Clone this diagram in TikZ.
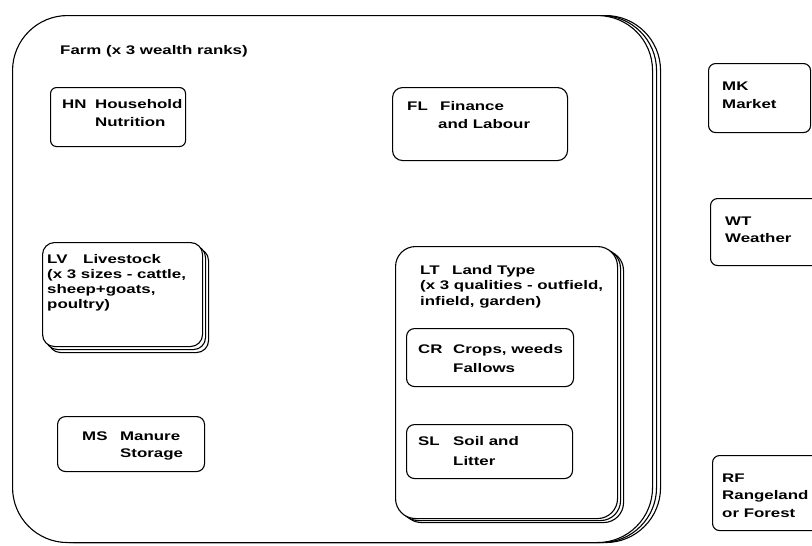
\documentclass[tikz,border=0pt]{standalone}
\usepackage{fontspec}
\setmainfont{Liberation Sans}[FakeStretch=1.35]

% stacked lines with a given baseline distance; baseline of the node = first line
\newcommand\stack[2]{\vtop{\baselineskip=#1\relax\lineskiplimit=-100pt #2}}
% fixed-width code tag in front of a label
\newcommand\tg[2]{\makebox[#1][l]{#2}}

\tikzset{
  box/.style={draw, line width=1.1pt, fill=white, inner sep=0pt, anchor=north west,
              rounded corners=#1},
  box/.default=8pt,
  lbl/.style={anchor=base west, inner sep=0pt,
              font=\bfseries\fontsize{12.5}{15}\selectfont}
}

\begin{document}
\begin{tikzpicture}[x=1pt,y=-1pt]
\useasboundingbox (0,0) rectangle (812,546);

% ---- Farm (stacked three times, copies shifted to the right) ----
\node[box=55pt, minimum width=640pt, minimum height=527pt] (farm3) at (20,15) {};
\node[box=55pt, minimum width=640pt, minimum height=527pt] (farm2) at (16,15) {};
\node[box=55pt, minimum width=640pt, minimum height=527pt] (farm)  at (12,15) {};
\node[lbl] (farm-t) at (60,54) {Farm (x 3 wealth ranks)};

% ---- Household nutrition ----
\node[box=6pt, minimum width=135pt, minimum height=59pt] (hn) at (50,87) {};
\node[lbl] (hn-t) at (62,108)
  {\stack{18pt}{\hbox{\tg{33pt}{HN}Household}\hbox{\tg{33pt}{}Nutrition}}};

% ---- Finance and labour ----
\node[box=10pt, minimum width=175pt, minimum height=73pt] (fl) at (392,87) {};
\node[lbl] (fl-t) at (407,110)
  {\stack{18pt}{\hbox{\tg{33pt}{FL}Finance}\hbox{\tg{31pt}{}and Labour}}};

% ---- Livestock (stacked) ----
\node[box=12pt, minimum width=160pt, minimum height=104pt] (lv3) at (48,248) {};
\node[box=12pt, minimum width=160pt, minimum height=104pt] (lv2) at (45,245) {};
\node[box=12pt, minimum width=160pt, minimum height=104pt] (lv)  at (42,242) {};
\node[lbl] (lv-t) at (47,263)
  {\stack{15pt}{\hbox{\tg{36pt}{LV}Livestock}\hbox{(x 3 sizes - cattle,}%
   \hbox{sheep+goats,}\hbox{poultry)}}};

% ---- Manure storage ----
\node[box=8pt, minimum width=147pt, minimum height=55pt] (ms) at (57,416) {};
\node[lbl] (ms-t) at (82,440)
  {\stack{17pt}{\hbox{\tg{38pt}{MS}Manure}\hbox{\tg{38pt}{}Storage}}};

% ---- Land type (stacked) with crops and soil ----
\node[box=20pt, minimum width=222pt, minimum height=272pt] (lt3) at (401,250) {};
\node[box=20pt, minimum width=222pt, minimum height=272pt] (lt2) at (398,248) {};
\node[box=20pt, minimum width=222pt, minimum height=272pt] (lt)  at (395,246) {};
\node[lbl] (lt-t) at (420,274)
  {\stack{15.5pt}{\hbox{\tg{32pt}{LT}Land Type}\hbox{(x 3 qualities - outfield,}%
   \hbox{infield, garden)}}};

\node[box=8pt, minimum width=167pt, minimum height=58pt] (cr) at (406,328) {};
\node[lbl] (cr-t) at (418,353)
  {\stack{19pt}{\hbox{\tg{35pt}{CR}Crops, weeds}\hbox{\tg{35pt}{}Fallows}}};

\node[box=8pt, minimum width=166pt, minimum height=54pt] (sl) at (406,424) {};
\node[lbl] (sl-t) at (418,445)
  {\stack{20pt}{\hbox{\tg{35pt}{SL}Soil and}\hbox{\tg{35pt}{}Litter}}};

% ---- Outside the farm ----
\node[box=7pt, minimum width=102pt, minimum height=69pt] (mk) at (708,63) {};
\node[lbl] (mk-t) at (722,90) {\stack{18pt}{\hbox{MK}\hbox{Market}}};

\node[box=7pt, minimum width=110pt, minimum height=67pt] (wt) at (710,198) {};
\node[lbl] (wt-t) at (725,225) {\stack{17pt}{\hbox{WT}\hbox{Weather}}};

\node[box=7pt, minimum width=110pt, minimum height=75pt] (rf) at (712,455) {};
\node[lbl] (rf-t) at (722,482)
  {\stack{17.5pt}{\hbox{RF}\hbox{Rangeland}\hbox{or Forest}}};
\end{tikzpicture}
\end{document}
